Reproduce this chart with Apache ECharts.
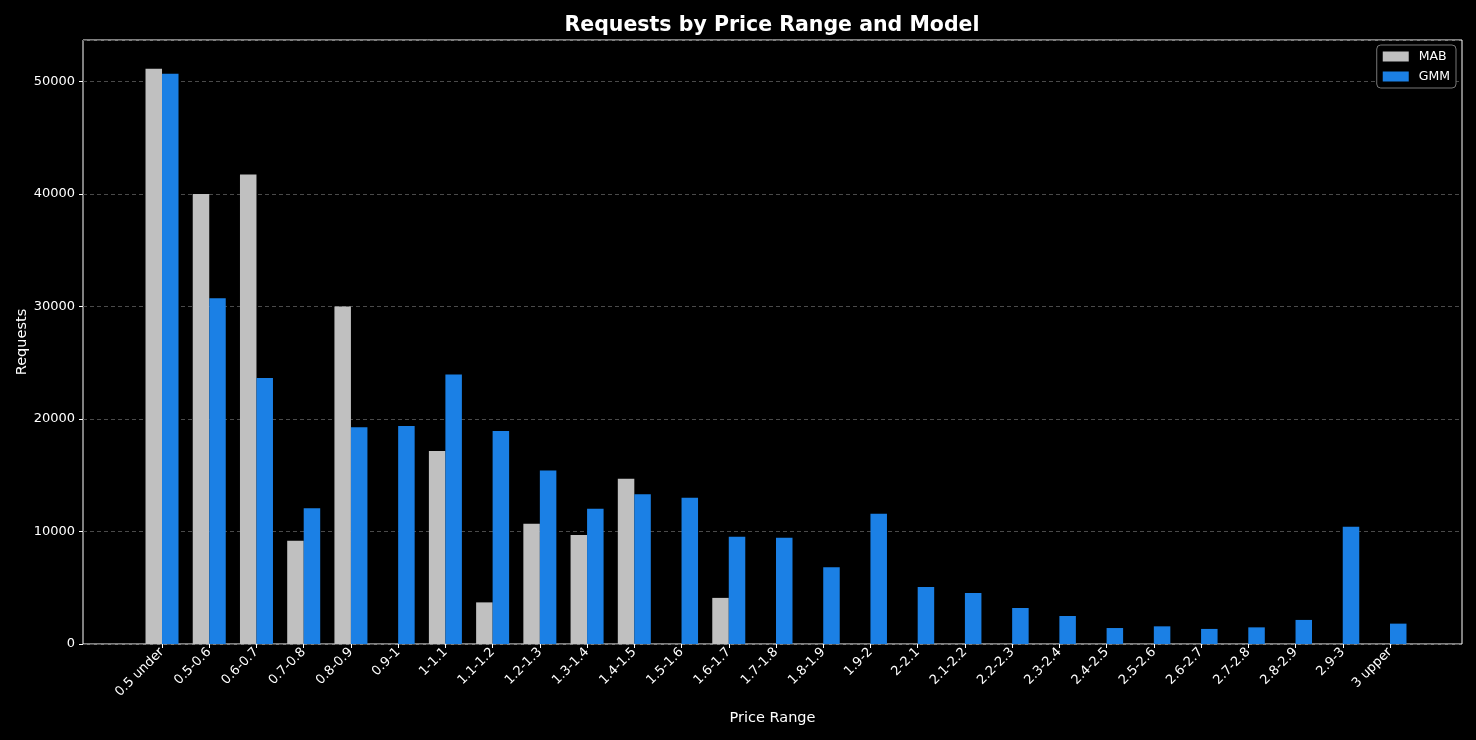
<!DOCTYPE html>
<html>
<head>
<meta charset="utf-8">
<script src="https://cdn.jsdelivr.net/npm/echarts@6/dist/echarts.min.js"></script>
<style>
html,body{margin:0;padding:0;background:#000;}
#chart{width:1476px;height:740px;}
</style>
</head>
<body>
<div id="chart"></div>
<script>
const categories = ['0.5 under','0.5-0.6','0.6-0.7','0.7-0.8','0.8-0.9','0.9-1','1-1.1','1.1-1.2','1.2-1.3','1.3-1.4','1.4-1.5','1.5-1.6','1.6-1.7','1.7-1.8','1.8-1.9','1.9-2','2-2.1','2.1-2.2','2.2-2.3','2.3-2.4','2.4-2.5','2.5-2.6','2.6-2.7','2.7-2.8','2.8-2.9','2.9-3','3 upper'];
const mabValues = [51140,40000,41740,9190,30000,0,17170,3700,10680,9700,14690,0,4100,0,0,0,0,0,0,0,0,0,0,0,0,0,0];
const gmmValues = [50700,30750,23640,12060,19280,19380,23950,18940,15420,12020,13320,13000,9530,9440,6830,11570,5070,4540,3200,2490,1420,1570,1340,1480,2140,10420,1810];
const yMax = 53700;

const FONT = 'DejaVu Sans';
const chart = echarts.init(document.getElementById('chart'), null, {renderer:'canvas'});
chart.setOption({
  backgroundColor: '#000',
  animation: false,
  textStyle: {fontFamily: FONT},
  title: {
    text: 'Requests by Price Range and Model',
    left: 767, textAlign: 'center', top: 10,
    textStyle: {color:'#fff', fontSize: 20.5, fontWeight: 'bold', fontFamily: FONT}
  },
  legend: {
    orient: 'vertical', right: 20, top: 45,
    itemWidth: 26, itemHeight: 10, itemGap: 7, icon: 'rect',
    padding: [5, 6, 5, 6],
    backgroundColor: '#000', borderColor: '#777', borderWidth: 1, borderRadius: 4,
    textStyle: {color:'#fff', fontSize: 12.5, fontFamily: FONT, padding: [0, 0, 0, 5]},
    data: ['MAB','GMM']
  },
  grid: [
    {left: 83, right: 14, top: 40, bottom: 96, show: true, borderColor: '#fff', borderWidth: 1, backgroundColor: '#000', containLabel: false},
    {left: 138.4, right: 62.4, top: 40, bottom: 96, containLabel: false}
  ],
  xAxis: [
    {type:'value', gridIndex:0, min:0, max:1, show:true,
     axisLine:{show:false}, axisTick:{show:false}, axisLabel:{show:false}, splitLine:{show:false},
     name:'Price Range', nameLocation:'middle', nameGap: 67,
     nameTextStyle:{color:'#fff', fontSize:14.5, fontFamily: FONT}},
    {type:'category', gridIndex:1, data: categories, boundaryGap: true,
     axisLine:{show:false},
     axisTick:{show:true, alignWithLabel:true, length:4, lineStyle:{color:'#fff'}},
     axisLabel:{color:'#fff', fontSize:13, rotate:45, margin:6, interval:0, fontFamily: FONT},
     splitLine:{show:false}}
  ],
  yAxis: [
    {type:'value', gridIndex:0, min:0, max:yMax, interval:10000,
     axisLine:{show:false},
     axisTick:{show:true, length:4, lineStyle:{color:'#fff'}},
     axisLabel:{color:'#fff', fontSize:13, margin:8, showMaxLabel:false, fontFamily: FONT,
       formatter: v => String(v)},
     splitLine:{show:true, lineStyle:{color:'#4a4a4a', type:[4,3], width:1}},
     name:'Requests', nameLocation:'middle', nameRotate:90, nameGap:53, nameMoveOverlap:false,
     nameTextStyle:{color:'#fff', fontSize:14.5, fontFamily: FONT}},
    {type:'value', gridIndex:1, min:0, max:yMax, show:false, splitLine:{show:false}}
  ],
  series: [
    {name:'MAB', type:'bar', xAxisIndex:1, yAxisIndex:1, data: mabValues,
     barWidth: 16.5, barGap:'0%', itemStyle:{color:'#c0c0c0'}},
    {name:'GMM', type:'bar', xAxisIndex:1, yAxisIndex:1, data: gmmValues,
     barWidth: 16.5, barGap:'0%', itemStyle:{color:'#1b80e5'}}
  ]
});
</script>
</body>
</html>
